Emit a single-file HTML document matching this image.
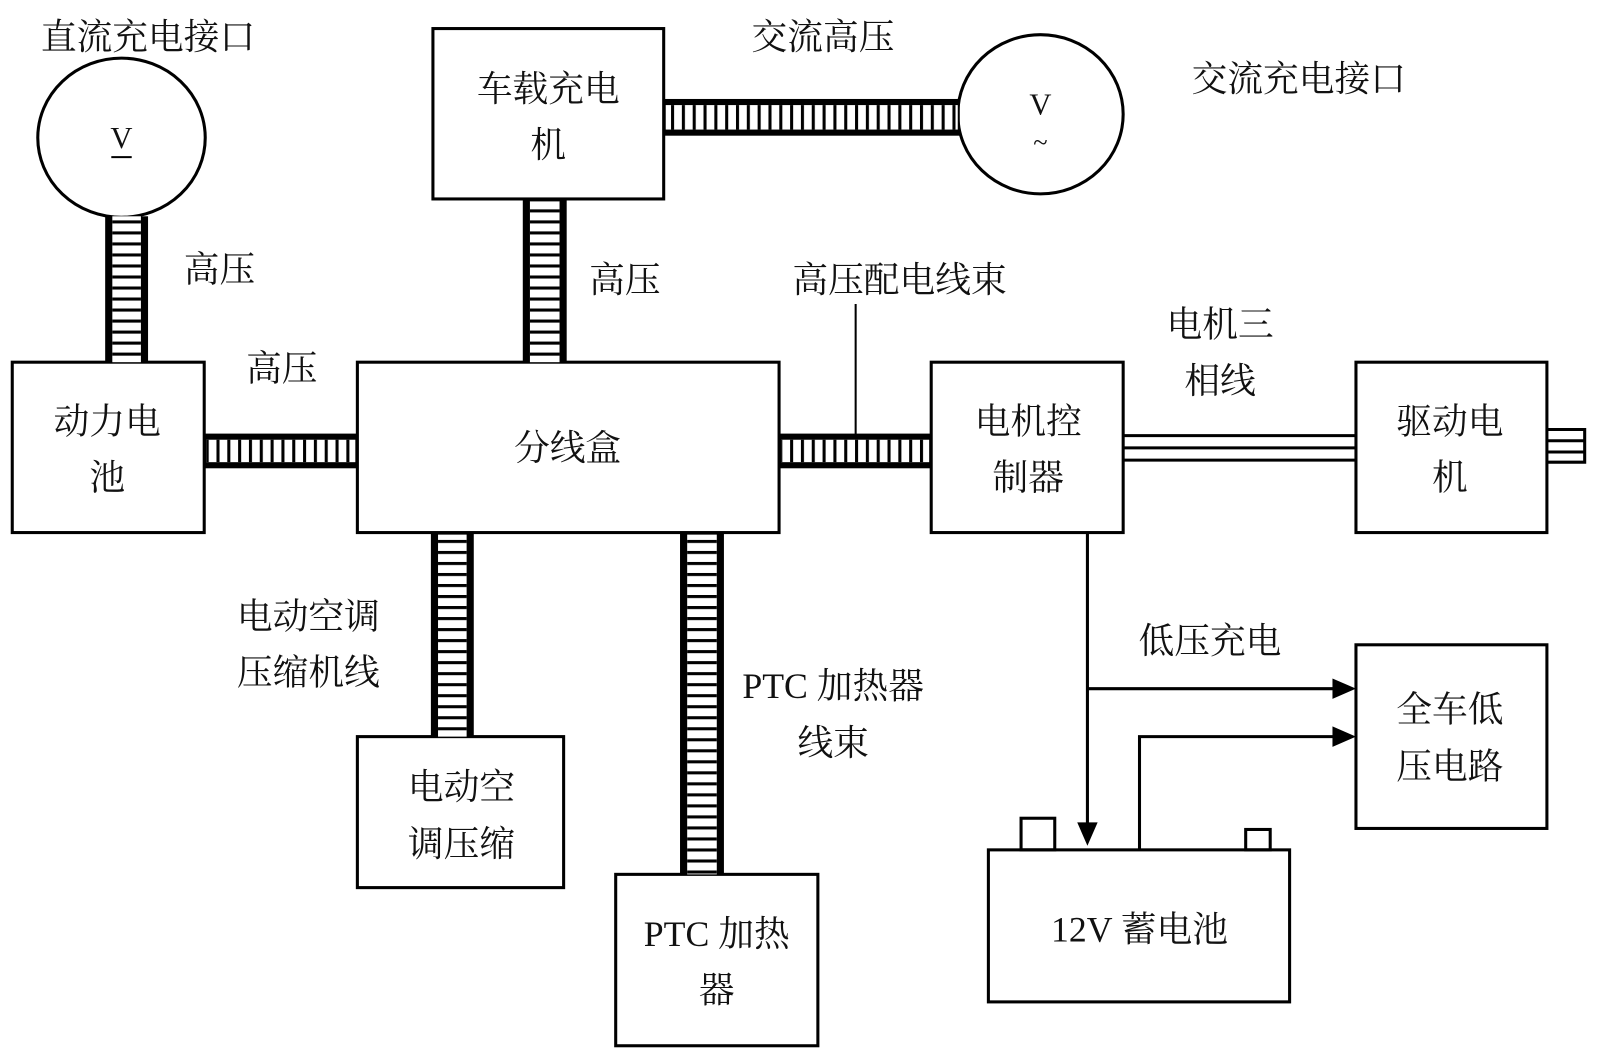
<!DOCTYPE html>
<html><head><meta charset="utf-8"><style>
html,body{margin:0;padding:0;background:#fff;}
svg{display:block;}
text{font-family:"Liberation Serif","Noto Serif CJK SC",serif;fill:#111;}
</style></head><body>
<svg width="1600" height="1058" viewBox="0 0 1567 1037" preserveAspectRatio="none" xmlns="http://www.w3.org/2000/svg">
<defs>
<pattern id="hr" patternUnits="userSpaceOnUse" width="50" height="10.8"><rect x="0" y="0" width="50" height="3" fill="#000"/></pattern>
<pattern id="vr" patternUnits="userSpaceOnUse" width="10.6" height="50"><rect x="0" y="0" width="3" height="50" fill="#000"/></pattern>
</defs>
<g fill="none" stroke="#000" stroke-width="3">
<rect x="12" y="355" width="188" height="167"/>
<rect x="350" y="355" width="413" height="167"/>
<rect x="424" y="28" width="226" height="167"/>
<rect x="912" y="355" width="188" height="167"/>
<rect x="1328" y="355" width="187" height="167"/>
<rect x="350" y="722" width="202" height="148"/>
<rect x="603" y="857" width="198" height="168"/>
<rect x="1328" y="632" width="187" height="180"/>
<rect x="968" y="833" width="295" height="149"/>
<rect x="1000" y="802" width="33" height="31"/>
<rect x="1220" y="813" width="24" height="20"/>
<ellipse cx="119" cy="135" rx="82" ry="78"/>
<ellipse cx="1019" cy="112" rx="81" ry="78"/>
<line x1="1100" y1="427" x2="1328" y2="427"/>
<line x1="1100" y1="439" x2="1328" y2="439"/>
<line x1="1100" y1="451" x2="1328" y2="451"/>
<path d="M1515 421 H1552 V453 H1515 M1515 432 H1552 M1515 443 H1552"/>
<line x1="838" y1="298" x2="838" y2="426" stroke-width="2"/>
<line x1="1065" y1="522" x2="1065" y2="808"/>
<line x1="1065" y1="675" x2="1308" y2="675"/>
<path d="M1116 833 V722 H1308"/>
</g>
<g fill="#000">
<polygon points="1055,806 1075,806 1065,829"/>
<polygon points="1305,665 1305,685 1328,675"/>
<polygon points="1305,712 1305,732 1328,722"/>
</g>
<g>
<rect x="103" y="212" width="42" height="143" fill="#000"/><rect x="110" y="212" width="28" height="143" fill="#fff"/><rect x="110" y="212" width="28" height="143" fill="url(#hr)"/>
<rect x="512" y="195" width="43" height="160" fill="#000"/><rect x="519" y="197" width="29" height="158" fill="#fff"/><rect x="519" y="197" width="29" height="158" fill="url(#hr)"/>
<rect x="422" y="522" width="42" height="200" fill="#000"/><rect x="429" y="524" width="28" height="198" fill="#fff"/><rect x="429" y="524" width="28" height="198" fill="url(#hr)"/>
<rect x="666" y="522" width="43" height="335" fill="#000"/><rect x="673" y="524" width="29" height="333" fill="#fff"/><rect x="673" y="524" width="29" height="333" fill="url(#hr)"/>
<rect x="200" y="425" width="150" height="34" fill="#000"/><rect x="202" y="431" width="146" height="22" fill="#fff"/><rect x="202" y="431" width="146" height="22" fill="url(#vr)"/>
<rect x="763" y="425" width="149" height="34" fill="#000"/><rect x="765" y="431" width="145" height="22" fill="#fff"/><rect x="765" y="431" width="145" height="22" fill="url(#vr)"/>
<rect x="650" y="97" width="290" height="36" fill="#000"/><rect x="652" y="103" width="286" height="24" fill="#fff"/><rect x="652" y="103" width="286" height="24" fill="url(#vr)"/>
</g>
<g font-size="35" text-anchor="middle">
<text x="145" y="48">直流充电接口</text>
<text x="806" y="48">交流高压</text>
<text x="1272" y="89">交流充电接口</text>
<text x="215" y="276">高压</text>
<text x="276" y="373">高压</text>
<text x="612" y="286">高压</text>
<text x="881" y="286">高压配电线束</text>
<text x="1195" y="330">电机三</text>
<text x="1195" y="385">相线</text>
<text x="302" y="616">电动空调</text>
<text x="302" y="671">压缩机线</text>
<text x="816" y="684">PTC 加热器</text>
<text x="816" y="740">线束</text>
<text x="1185" y="640">低压充电</text>
<text x="105" y="425">动力电</text>
<text x="105" y="480">池</text>
<text x="556" y="451">分线盒</text>
<text x="537" y="99">车载充电</text>
<text x="537" y="154">机</text>
<text x="1007" y="425">电机控</text>
<text x="1007" y="480">制器</text>
<text x="1420" y="425">驱动电</text>
<text x="1420" y="480">机</text>
<text x="452" y="783">电动空</text>
<text x="452" y="839">调压缩</text>
<text x="702" y="927">PTC 加热</text>
<text x="702" y="982">器</text>
<text x="1420" y="707">全车低</text>
<text x="1420" y="763">压电路</text>
<text x="1116" y="923">12V 蓄电池</text>
<text x="119" y="145" font-size="30">V</text>
<text x="1019" y="112" font-size="30">V</text>
<text x="1019" y="148" font-size="26">~</text>
</g>
<line x1="109" y1="154" x2="129" y2="154" stroke="#000" stroke-width="2"/>
</svg>
</body></html>
